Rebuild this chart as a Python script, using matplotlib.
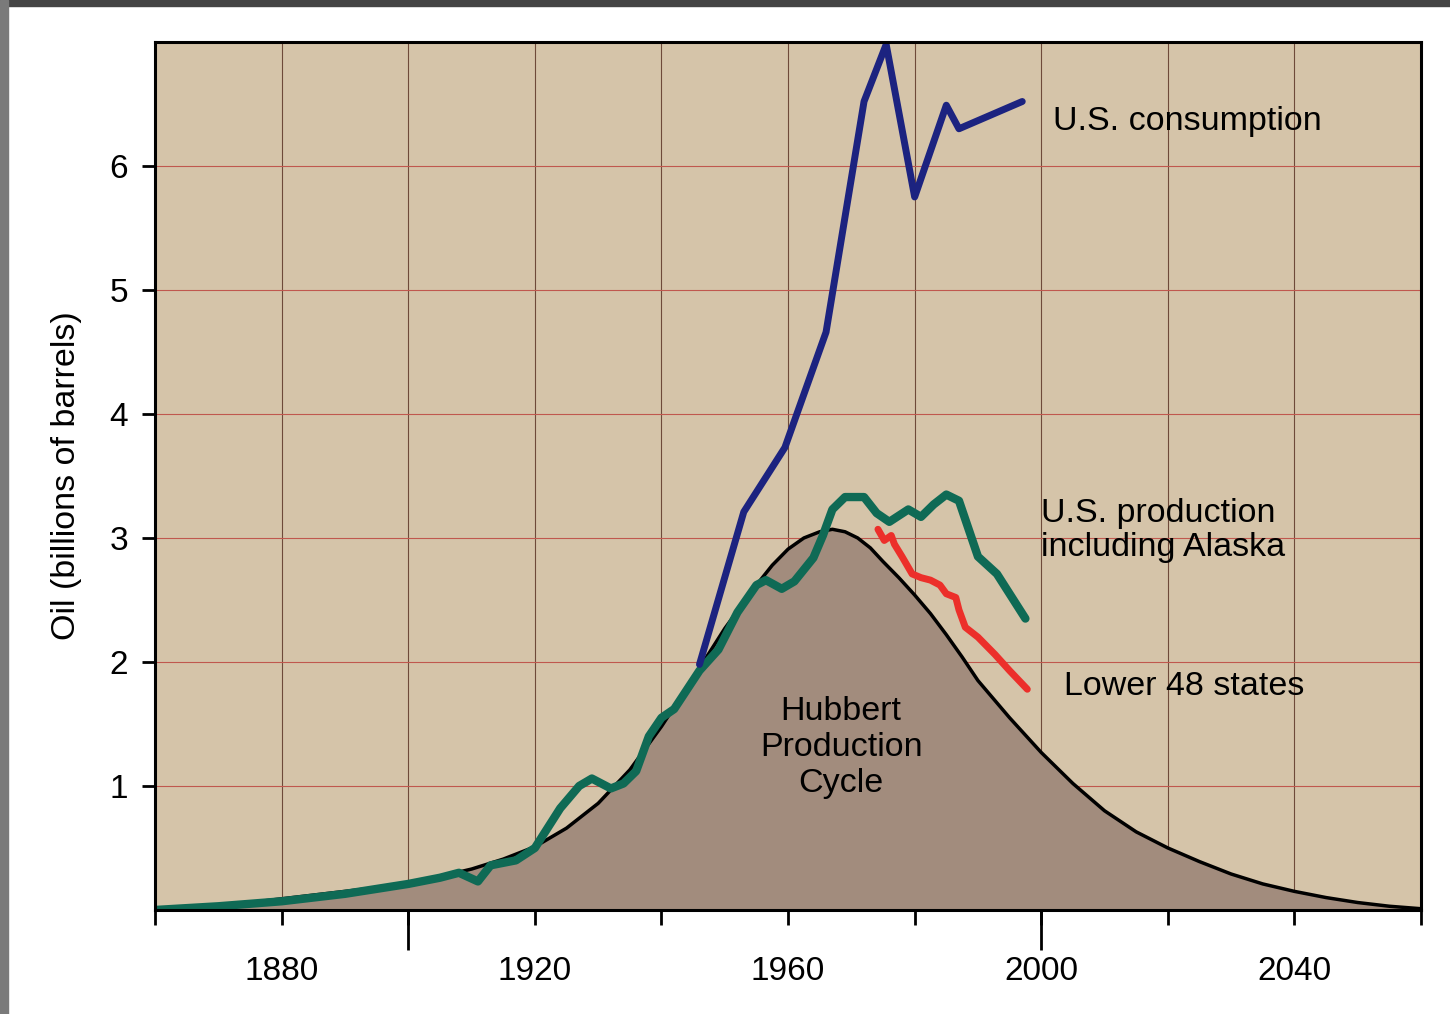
import numpy as np
import matplotlib.pyplot as plt
from matplotlib.patches import Rectangle

plt.rcParams['font.family'] = ['Liberation Sans', 'DejaVu Sans']

# Hubbert production cycle (billions of barrels per year)
hubbert_years = [1860, 1865, 1870, 1875, 1880, 1885, 1890, 1895, 1900, 1905,
                 1910, 1915, 1920, 1925, 1930, 1935, 1940, 1945, 1950, 1955,
                 1957.5, 1960, 1962.5, 1965, 1967, 1969, 1971, 1973, 1975,
                 1977.5, 1980, 1982.5, 1985, 1987.5, 1990, 1995, 2000,
                 2005, 2010, 2015, 2020, 2025, 2030, 2035, 2040, 2045, 2050,
                 2055, 2060]
hubbert_vals = [0.0, 0.02, 0.04, 0.06, 0.09, 0.12, 0.15, 0.18, 0.22, 0.27,
                0.33, 0.41, 0.51, 0.66, 0.86, 1.13, 1.48, 1.87, 2.27, 2.62,
                2.78, 2.91, 3.00, 3.05, 3.07, 3.05, 3.00, 2.92, 2.81,
                2.68, 2.54, 2.39, 2.22, 2.04, 1.85, 1.55, 1.27,
                1.02, 0.80, 0.63, 0.50, 0.39, 0.29, 0.21, 0.15, 0.10, 0.06,
                0.03, 0.01]

# U.S. production including Alaska
prod_years = [1860, 1870, 1880, 1890, 1900, 1905, 1908, 1911, 1913, 1917,
              1920, 1924, 1927, 1929, 1932, 1934, 1936, 1938, 1940, 1942,
              1946, 1949, 1952, 1955, 1956.5, 1959, 1961, 1964, 1965.5, 1967,
              1969, 1972, 1974, 1976, 1979, 1981, 1983, 1985, 1987, 1990,
              1993, 1997.5]
prod_vals = [0.0, 0.03, 0.07, 0.13, 0.21, 0.26, 0.30, 0.23, 0.36, 0.40,
             0.50, 0.82, 1.00, 1.06, 0.98, 1.02, 1.12, 1.40, 1.55, 1.62,
             1.93, 2.10, 2.40, 2.62, 2.66, 2.59, 2.65, 2.84, 3.02, 3.23,
             3.33, 3.33, 3.20, 3.13, 3.23, 3.17, 3.27, 3.35, 3.30, 2.85,
             2.71, 2.35]

# Lower 48 states
l48_years = [1974.2, 1975.2, 1976.3, 1976.8, 1978, 1979.6, 1981, 1982.5, 1984,
             1985, 1986.5, 1987, 1988, 1990, 1992.7, 1995, 1997.8]
l48_vals = [3.07, 2.98, 3.02, 2.95, 2.85, 2.71, 2.68, 2.66, 2.62,
            2.55, 2.52, 2.42, 2.28, 2.20, 2.06, 1.93, 1.78]

# U.S. consumption
cons_years = [1946, 1953, 1959.5, 1966, 1972, 1975.5, 1980, 1985, 1987, 1997]
cons_vals = [1.98, 3.21, 3.73, 4.66, 6.52, 6.98, 5.75, 6.49, 6.30, 6.52]

fig = plt.figure(figsize=(14.5, 10.14), dpi=100, facecolor='white')
ax = fig.add_axes([0.107, 0.1026, 0.873, 0.856])
ax.set_facecolor('#d5c4a9')

# scan border
fig.patches.append(Rectangle((0, 0.994), 1, 0.006, transform=fig.transFigure,
                             color='#444444', zorder=0))
fig.patches.append(Rectangle((0, 0), 0.0055, 1, transform=fig.transFigure,
                             color='#7a7a7a', zorder=0))

ax.set_xlim(1860, 2060)
ax.set_ylim(0, 7)

for yr in range(1880, 2060, 20):
    ax.axvline(yr, color='#6e4a3a', lw=0.8, zorder=1)
for v in range(1, 7):
    ax.axhline(v, color='#c0584e', lw=0.8, zorder=1)

ax.fill_between(hubbert_years, hubbert_vals, 0, color='#a28c7d', zorder=2)
ax.plot(hubbert_years, hubbert_vals, color='black', lw=2.5, zorder=3,
        solid_joinstyle='round')

ax.plot(prod_years, prod_vals, color='#0f6a55', lw=6, zorder=5,
        solid_capstyle='round', solid_joinstyle='round')
ax.plot(l48_years, l48_vals, color='#ec2f2a', lw=5, zorder=4,
        solid_capstyle='round', solid_joinstyle='round')
ax.plot(cons_years, cons_vals, color='#1c2380', lw=5, zorder=6,
        solid_capstyle='round', clip_on=False)

ax.text(2001.8, 6.36, 'U.S. consumption', fontsize=24.5, va='center', ha='left')
ax.text(2000.0, 3.06, 'U.S. production\nincluding Alaska', fontsize=24.5,
        va='center', ha='left', linespacing=1.15)
ax.text(2003.6, 1.80, 'Lower 48 states', fontsize=24.5, va='center', ha='left')
ax.text(1968.4, 1.31, 'Hubbert\nProduction\nCycle', fontsize=24.5,
        va='center', ha='center', linespacing=1.2, zorder=7)

ax.set_ylabel('Oil (billions of barrels)', fontsize=24.5, labelpad=20)

ax.set_xticks(range(1860, 2061, 20))
ax.set_xticklabels([str(y) if y in (1880, 1920, 1960, 2000, 2040) else ''
                    for y in range(1860, 2061, 20)])
ax.set_xticks([1900, 2000], minor=True)
ax.xaxis.remove_overlapping_locs = False
ax.tick_params(axis='x', which='major', length=11, width=2, pad=22,
               labelsize=24, direction='out')
ax.tick_params(axis='x', which='minor', length=29, width=2, direction='out')

ax.set_yticks(range(1, 7))
ax.tick_params(axis='y', length=9.5, width=2, pad=10, labelsize=24,
               direction='out')

for s in ax.spines.values():
    s.set_linewidth(2.2)
    s.set_zorder(8)

fig.savefig('out.png', dpi=100, facecolor='white')
